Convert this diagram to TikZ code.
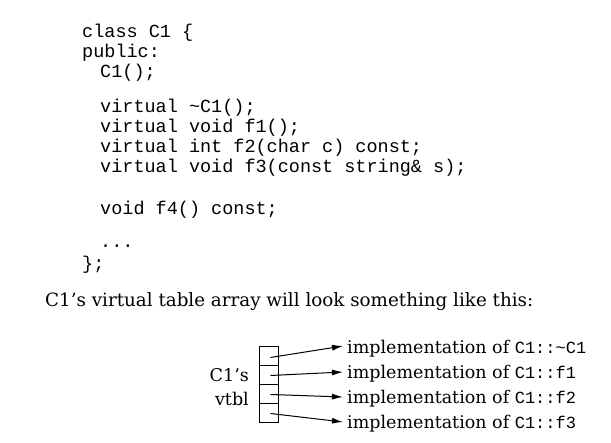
\documentclass[tikz,border=0pt]{standalone}
\usepackage{fontspec}
\setmainfont{DejaVu Serif}
\setmonofont{Liberation Mono}
\usetikzlibrary{arrows.meta}
\begin{document}
\begin{tikzpicture}[x=1pt,y=-1pt,
  code/.style={anchor=base west,inner sep=0pt,font=\ttfamily\fontsize{18.5}{20}\selectfont},
  txt/.style={anchor=base west,inner sep=0pt,font=\fontsize{17.5}{22}\selectfont},
  cell/.style={draw,minimum width=19pt,minimum height=19pt,inner sep=0pt,line width=1pt},
  ptr/.style={-{Latex[length=11pt,width=6pt]},line width=1pt}]
\useasboundingbox (0,0) rectangle (611,443);
\node[code] (l1) at (82,38) {class C1 \{};
\node[code] (l2) at (82,58) {public:};
\node[code] (l3) at (100,78) {C1();};
\node[code] (l4) at (100,113) {virtual \textasciitilde C1();};
\node[code] (l5) at (100,133) {virtual void f1();};
\node[code] (l6) at (100,153) {virtual int f2(char c) const;};
\node[code] (l7) at (100,173) {virtual void f3(const string\& s);};
\node[code] (l8) at (100,215) {void f4() const;};
\node[code] (l9) at (100,248) {...};
\node[code] (l10) at (82,270) {\};};
\node[txt,font=\fontsize{18.3}{22}\selectfont] (cap) at (45,307) {C1's virtual table array will look something like this:};
\node[cell] (c1) at (268.5,356.5) {};
\node[cell] (c2) at (268.5,375.5) {};
\node[cell] (c3) at (268.5,394.5) {};
\node[cell] (c4) at (268.5,413.5) {};
\node[anchor=base east,inner sep=0pt,font=\fontsize{17.5}{22}\selectfont] (n1) at (249,382) {C1's};
\node[anchor=base east,inner sep=0pt,font=\fontsize{17.5}{22}\selectfont] (n2) at (249,406) {vtbl};
\node[txt] (i1) at (347,354) {implementation of {\ttfamily\fontsize{17}{20}\selectfont C1::\textasciitilde C1}};
\node[txt] (i2) at (347,379) {implementation of {\ttfamily\fontsize{17}{20}\selectfont C1::f1}};
\node[txt] (i3) at (347,404) {implementation of {\ttfamily\fontsize{17}{20}\selectfont C1::f2}};
\node[txt] (i4) at (347,429) {implementation of {\ttfamily\fontsize{17}{20}\selectfont C1::f3}};
\coordinate (e1) at (343,346);
\coordinate (e2) at (343,372);
\coordinate (e3) at (343,397);
\coordinate (e4) at (343,422);
\draw[ptr] ([xshift=2pt,yshift=-1pt]c1.center) -- (e1);
\draw[ptr] ([xshift=2pt,yshift=0pt]c2.center) -- (e2);
\draw[ptr] ([xshift=2pt,yshift=0pt]c3.center) -- (e3);
\draw[ptr] ([xshift=2pt,yshift=0pt]c4.center) -- (e4);
\end{tikzpicture}
\end{document}
